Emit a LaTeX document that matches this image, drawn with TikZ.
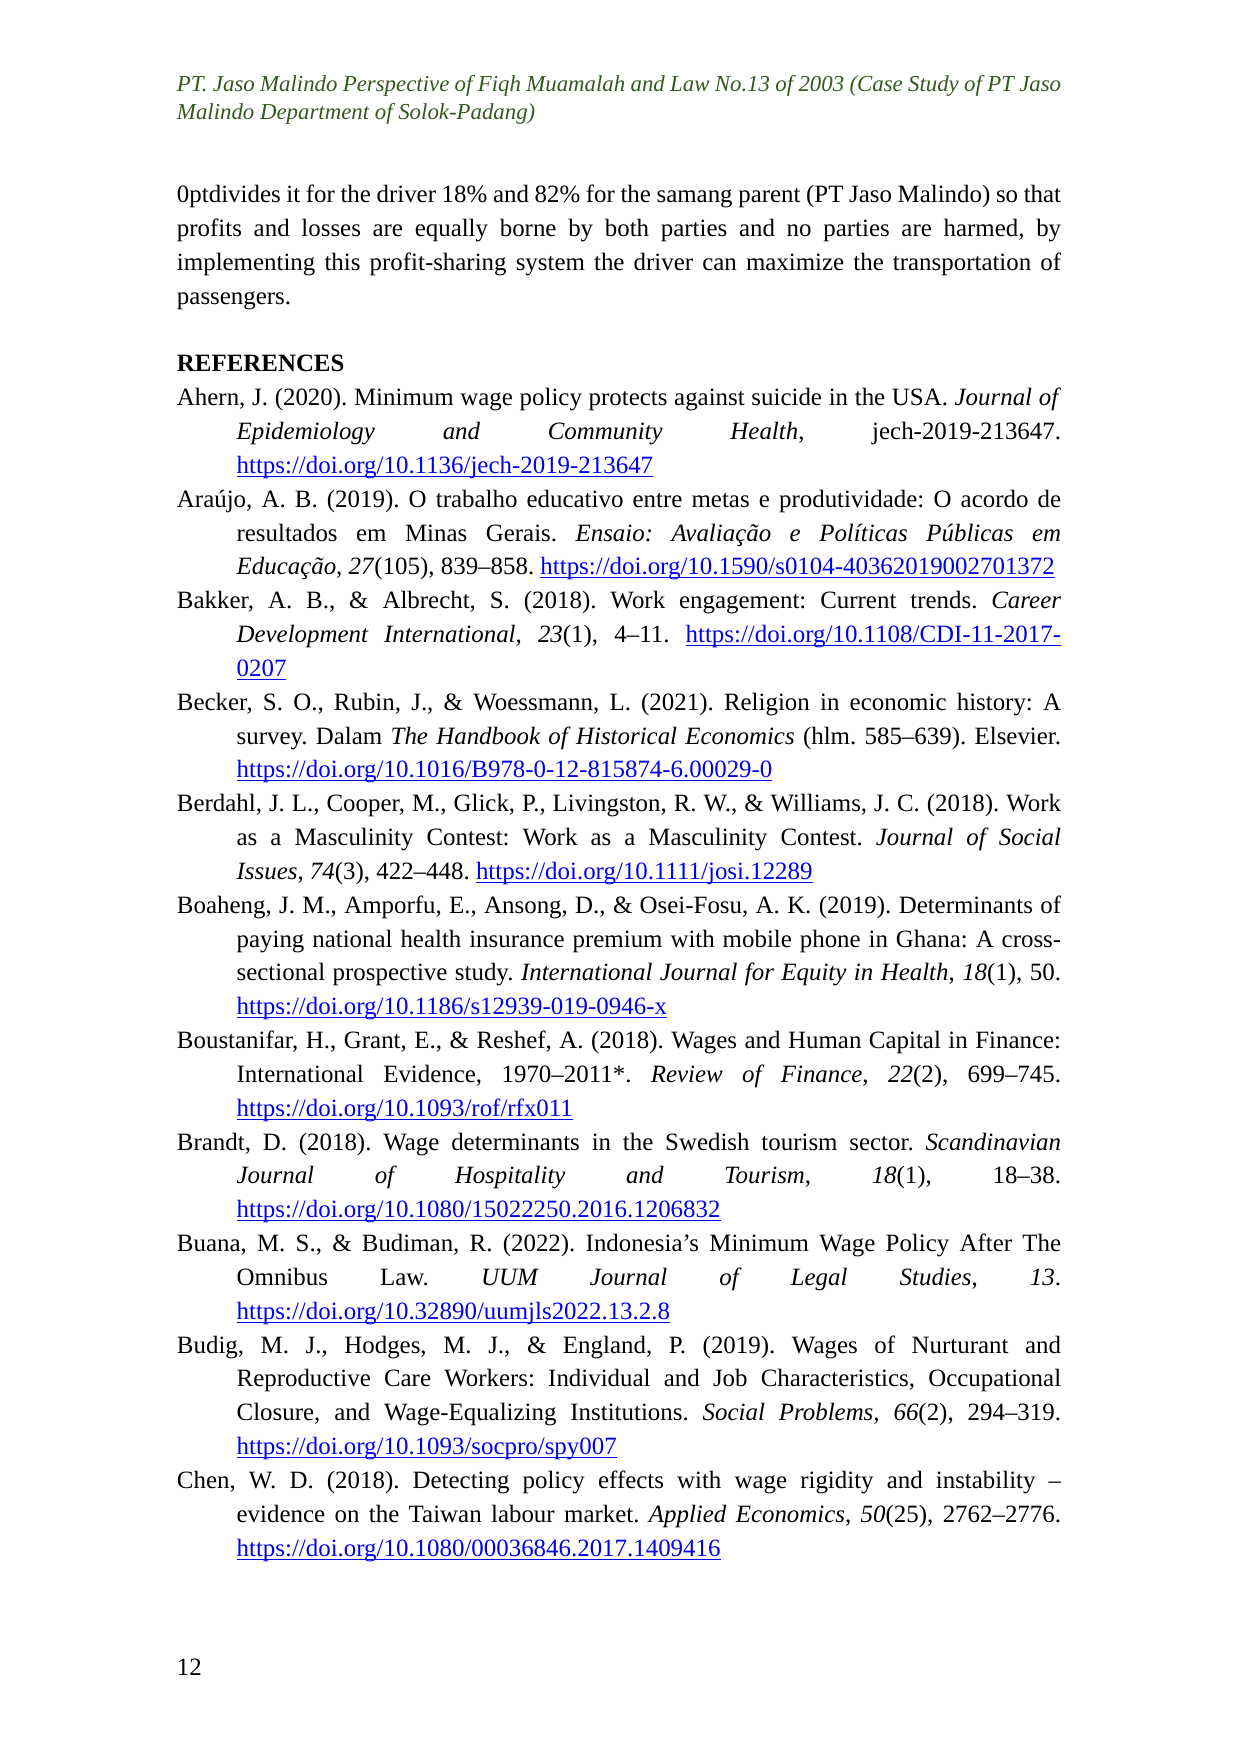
\documentclass[tikz,border=0pt]{standalone}
\usepackage{fontspec}
\setmainfont{Liberation Serif}
\definecolor{hdr}{RGB}{50,90,30}
\definecolor{lnk}{RGB}{0,0,238}
\newcommand{\lk}[1]{{\color{lnk}\underline{\smash{#1}}}}
\begin{document}
\begin{tikzpicture}[
  txt/.style={anchor=north west,inner sep=0pt,text width=14.97cm,align=justify,font=\fontsize{12}{16.3}\selectfont\frenchspacing\hyphenpenalty=10000 }]
\useasboundingbox (0,0) rectangle (21,-29.7);
\node[txt,font=\fontsize{11}{13.6}\selectfont\itshape\frenchspacing,text=hdr] (hdr) at (2.99,-1.27)
{PT. Jaso Malindo Perspective of Fiqh Muamalah and Law No.13 of 2003 (Case Study of PT Jaso\linebreak Malindo Department of Solok-Padang)};
\node[txt] (body) at (2.99,-3.13) {%
divides it for the driver 18\% and 82\% for the samang parent (PT Jaso Malindo) so that\linebreak profits and losses are equally borne by both parties and no parties are harmed, by\linebreak implementing this profit-sharing system the driver can maximize the transportation of\linebreak passengers.\par
\vspace{16.3pt}
\textbf{REFERENCES}\par
\leftskip=1.01cm \parindent=-1.01cm
Ahern, J. (2020). Minimum wage policy protects against suicide in the USA. \textit{Journal of}\linebreak \textit{Epidemiology and Community Health}, jech-2019-213647.\linebreak \lk{https://doi.org/10.1136/jech-2019-213647}\par
Araújo, A. B. (2019). O trabalho educativo entre metas e produtividade: O acordo de\linebreak resultados em Minas Gerais. \textit{Ensaio: Avaliação e Políticas Públicas em}\linebreak \textit{Educação}, \textit{27}(105), 839–858. \lk{https://doi.org/10.1590/s0104-40362019002701372}\par
Bakker, A. B., \& Albrecht, S. (2018). Work engagement: Current trends. \textit{Career}\linebreak \textit{Development International}, \textit{23}(1), 4–11. \lk{https://doi.org/10.1108/CDI-11-2017-}\linebreak \lk{0207}\par
Becker, S. O., Rubin, J., \& Woessmann, L. (2021). Religion in economic history: A\linebreak survey. Dalam \textit{The Handbook of Historical Economics} (hlm. 585–639). Elsevier.\linebreak \lk{https://doi.org/10.1016/B978-0-12-815874-6.00029-0}\par
Berdahl, J. L., Cooper, M., Glick, P., Livingston, R. W., \& Williams, J. C. (2018). Work\linebreak as a Masculinity Contest: Work as a Masculinity Contest. \textit{Journal of Social}\linebreak \textit{Issues}, \textit{74}(3), 422–448. \lk{https://doi.org/10.1111/josi.12289}\par
Boaheng, J. M., Amporfu, E., Ansong, D., \& Osei-Fosu, A. K. (2019). Determinants of\linebreak paying national health insurance premium with mobile phone in Ghana: A cross-\linebreak sectional prospective study. \textit{International Journal for Equity in Health}, \textit{18}(1), 50.\linebreak \lk{https://doi.org/10.1186/s12939-019-0946-x}\par
Boustanifar, H., Grant, E., \& Reshef, A. (2018). Wages and Human Capital in Finance:\linebreak International Evidence, 1970–2011*. \textit{Review of Finance}, \textit{22}(2), 699–745.\linebreak \lk{https://doi.org/10.1093/rof/rfx011}\par
Brandt, D. (2018). Wage determinants in the Swedish tourism sector. \textit{Scandinavian}\linebreak \textit{Journal of Hospitality and Tourism}, \textit{18}(1), 18–38.\linebreak \lk{https://doi.org/10.1080/15022250.2016.1206832}\par
Buana, M. S., \& Budiman, R. (2022). Indonesia’s Minimum Wage Policy After The\linebreak Omnibus Law. \textit{UUM Journal of Legal Studies}, \textit{13}.\linebreak \lk{https://doi.org/10.32890/uumjls2022.13.2.8}\par
Budig, M. J., Hodges, M. J., \& England, P. (2019). Wages of Nurturant and\linebreak Reproductive Care Workers: Individual and Job Characteristics, Occupational\linebreak Closure, and Wage-Equalizing Institutions. \textit{Social Problems}, \textit{66}(2), 294–319.\linebreak \lk{https://doi.org/10.1093/socpro/spy007}\par
Chen, W. D. (2018). Detecting policy effects with wage rigidity and instability –\linebreak evidence on the Taiwan labour market. \textit{Applied Economics}, \textit{50}(25), 2762–2776.\linebreak \lk{https://doi.org/10.1080/00036846.2017.1409416}\par
};
\node[anchor=base west,inner sep=0pt,font=\fontsize{12}{14}\selectfont] (pg) at (2.99,-28.37) {12};
\end{tikzpicture}
\end{document}
